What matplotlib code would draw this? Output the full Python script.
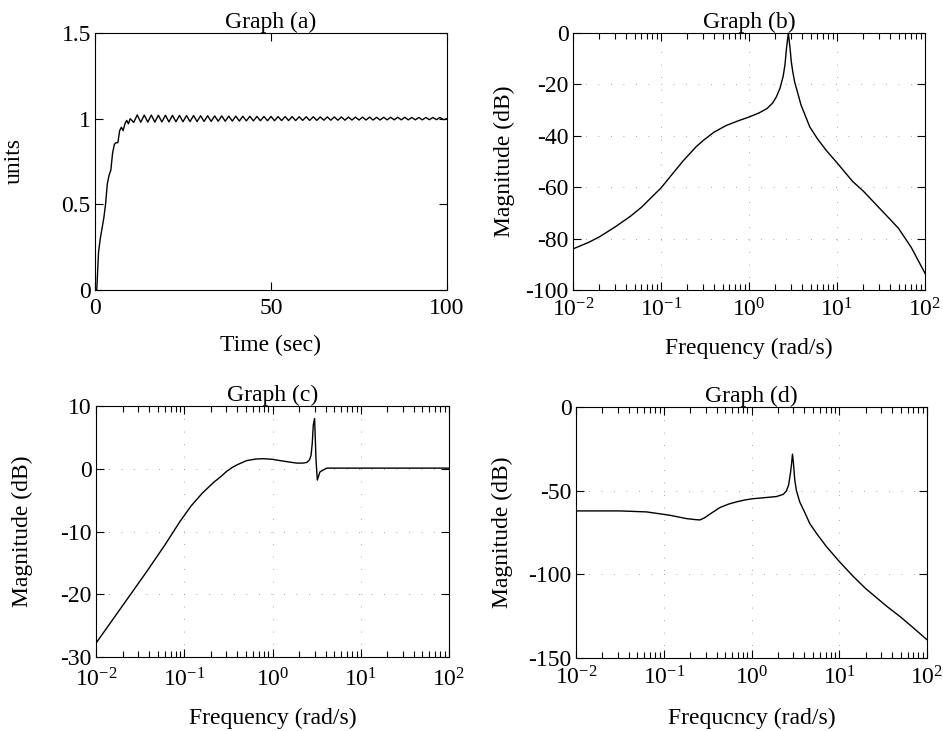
import numpy as np
import matplotlib.pyplot as plt
from matplotlib.ticker import LogLocator, NullFormatter, NullLocator

plt.rcParams['font.family'] = ['Liberation Serif', 'DejaVu Serif']
plt.rcParams['mathtext.fontset'] = 'custom'
plt.rcParams['mathtext.rm'] = 'Liberation Serif'
plt.rcParams['mathtext.it'] = 'Liberation Serif:italic'
plt.rcParams['mathtext.default'] = 'rm'
plt.rcParams['axes.unicode_minus'] = False

# (a) step response
t_a = [0, 0.5, 1, 1.5, 2, 2.5, 3, 3.5, 4, 4.5, 5, 5.5, 6, 6.5, 7, 7.5, 8, 8.5, 9, 9.5, 10] \
    + list(range(11, 101))
y_a = [0, 0.0, 0.22, 0.30, 0.36, 0.42, 0.50, 0.62, 0.67, 0.70, 0.80, 0.85, 0.86, 0.86, 0.93, 0.95,
       0.93, 0.97, 0.99, 0.97, 1.00,
       0.978, 1.022, 0.979, 1.021, 0.980, 1.021, 0.980, 1.020, 0.981, 1.020,
       0.981, 1.019, 0.982, 1.019, 0.982, 1.018, 0.983, 1.018, 0.983, 1.017,
       0.984, 1.017, 0.984, 1.016, 0.985, 1.016, 0.985, 1.015, 0.986, 1.015,
       0.986, 1.014, 0.987, 1.014, 0.987, 1.013, 0.988, 1.013, 0.988, 1.013,
       0.988, 1.012, 0.989, 1.012, 0.989, 1.012, 0.989, 1.011, 0.990, 1.011,
       0.990, 1.011, 0.990, 1.010, 0.991, 1.010, 0.991, 1.010, 0.991, 1.010,
       0.991, 1.009, 0.992, 1.009, 0.992, 1.009, 0.992, 1.009, 0.992, 1.008,
       0.992, 1.008, 0.993, 1.008, 0.993, 1.008, 0.993, 1.008, 0.993, 1.007,
       0.993, 1.007, 0.993, 1.007, 0.994, 1.007, 0.994, 1.007, 0.994, 1.000]

# (b) magnitude
w_b = [0.01, 0.015, 0.02, 0.03, 0.045, 0.06, 0.075, 0.1, 0.13, 0.178, 0.25, 0.3, 0.4,
       0.55, 0.75, 1.0, 1.3, 1.6, 1.85, 2.05, 2.25, 2.44, 2.56, 2.66, 2.74, 2.8,
       2.86, 2.93, 3.02, 3.14, 3.3, 3.49, 3.9, 4.9, 6.0, 7.6, 10, 15, 20, 36, 50, 70, 100]
db_b = [-84.0, -81.5, -79.3, -75.5, -71.3, -67.8, -64.5, -60.3, -55.5, -49.8, -44.3, -41.9,
        -38.6, -36.0, -34.2, -32.7, -31.1, -29.4, -27.3, -24.8, -21.5, -17.0, -12.5, -6.4,
        -2.5, 0, -3, -6, -11, -15, -19, -22, -28, -36.5, -41.2, -45.8, -50.5, -57.7, -61.6,
        -70.8, -76.0, -83.5, -93.5]

# (c) magnitude
w_c = [0.01, 0.0375, 0.06, 0.0895, 0.12, 0.16, 0.214, 0.26, 0.303, 0.35, 0.4, 0.51, 0.65,
       0.787, 1.0, 1.216, 1.5, 1.88, 2.2, 2.44, 2.62, 2.73, 2.82, 2.9, 3.0, 3.06, 3.11,
       3.22, 3.45, 4.11, 10, 100]
db_c = [-27.8, -16.4, -12.2, -8.4, -5.9, -3.9, -2.2, -1.25, -0.4, 0.2, 0.65, 1.3, 1.55,
        1.6, 1.5, 1.3, 1.1, 0.9, 0.9, 1.0, 1.4, 2.1, 4.0, 7.0, 8.0, 4.5, 1.5,
        -1.8, -0.5, 0.1, 0.1, 0.1]

# (d) magnitude
w_d = [0.01, 0.0317, 0.0638, 0.1175, 0.182, 0.23, 0.258, 0.29, 0.336, 0.436, 0.55, 0.675,
       0.85, 1.045, 1.4, 1.93, 2.3, 2.5, 2.65, 2.78, 2.86, 2.93, 3.0, 3.11, 3.25, 3.55,
       4.0, 4.61, 5.5, 7.14, 10, 14.4, 20, 34.4, 50, 70, 100]
db_d = [-62.1, -62.1, -62.7, -64.7, -66.7, -67.3, -67.5, -66.3, -64.0, -60.1, -58.0, -56.7,
        -55.5, -54.8, -54.2, -53.5, -52.2, -50.2, -46.5, -39.4, -34, -28.2, -33, -43.4, -50,
        -56.8, -62.5, -69.6, -75.5, -83.4, -92.3, -101.2, -108.5, -118.9, -125.5, -132, -139.1]

fig = plt.figure(figsize=(9.43, 7.31), dpi=100)
W, H = 943, 731


def make_ax(l, r, t, b):
    return fig.add_axes([l / W, 1 - b / H, (r - l) / W, (b - t) / H])


ax_a = make_ax(95, 447, 33, 290)
ax_b = make_ax(573, 925, 33, 290)
ax_c = make_ax(96, 449, 406, 657)
ax_d = make_ax(576, 927, 407, 658)


def style(ax, xpad=6):
    ax.tick_params(which='both', direction='in', top=True, right=True,
                   labelsize=17, width=0.8)
    ax.tick_params(axis='x', which='both', pad=xpad)
    ax.tick_params(axis='y', which='both', pad=3)
    ax.tick_params(which='major', length=6)
    ax.tick_params(which='minor', length=4)
    for s in ax.spines.values():
        s.set_linewidth(0.8)


def log_style(ax, ylim, yticks, xpad=6):
    ax.set_xscale('log')
    ax.set_xlim(1e-2, 1e2)
    ax.set_ylim(*ylim)
    ax.set_yticks(yticks)
    ax.xaxis.set_major_locator(LogLocator(base=10, numticks=10))
    ax.xaxis.set_minor_locator(LogLocator(base=10, subs=np.arange(2, 10), numticks=20))
    ax.xaxis.set_minor_formatter(NullFormatter())
    ax.yaxis.set_minor_locator(NullLocator())
    ax.grid(True, which='major', color='0.55', linestyle=(0, (1, 14)), linewidth=0.6)
    style(ax, xpad)


ax_a.plot(t_a, y_a, color='black', linewidth=1.0)
ax_a.set_xlim(0, 100)
ax_a.set_ylim(0, 1.5)
ax_a.set_xticks([0, 50, 100])
ax_a.set_yticks([0, 0.5, 1, 1.5])
ax_a.set_yticklabels(['0', '0.5', '1', '1.5'])
style(ax_a)
ax_a.set_title('Graph (a)', fontsize=17, pad=1)
ax_a.set_xlabel('Time (sec)', fontsize=17)
ax_a.set_ylabel('units', fontsize=17)

ax_b.plot(w_b, db_b, color='black', linewidth=1.0)
log_style(ax_b, (-100, 0), [-100, -80, -60, -40, -20, 0])
ax_b.set_title('Graph (b)', fontsize=17, pad=1)
ax_b.set_xlabel('Frequency (rad/s)', fontsize=17)
ax_b.set_ylabel('Magnitude (dB)', fontsize=17)

ax_c.plot(w_c, db_c, color='black', linewidth=1.0)
log_style(ax_c, (-30, 10), [-30, -20, -10, 0, 10], xpad=8)
ax_c.set_title('Graph (c)', fontsize=17, pad=1)
ax_c.set_xlabel('Frequency (rad/s)', fontsize=17)
ax_c.set_ylabel('Magnitude (dB)', fontsize=17)

ax_d.plot(w_d, db_d, color='black', linewidth=1.0)
log_style(ax_d, (-150, 0), [-150, -100, -50, 0])
ax_d.set_title('Graph (d)', fontsize=17, pad=1)
ax_d.set_xlabel('Frequcncy (rad/s)', fontsize=17)
ax_d.set_ylabel('Magnitude (dB)', fontsize=17)

for ax in (ax_a, ax_b, ax_c, ax_d):
    ax.xaxis.label.set_va('center')

ax_a.xaxis.set_label_coords(0.5, -0.214)
ax_b.xaxis.set_label_coords(0.5, -0.226)
ax_c.xaxis.set_label_coords(0.5, -0.243)
ax_d.xaxis.set_label_coords(0.5, -0.239)
ax_a.yaxis.set_label_coords(-0.199, 0.5)
ax_b.yaxis.set_label_coords(-0.165, 0.5)
ax_c.yaxis.set_label_coords(-0.178, 0.5)
ax_d.yaxis.set_label_coords(-0.18, 0.5)

fig.savefig('out.png', dpi=100, facecolor='white')
